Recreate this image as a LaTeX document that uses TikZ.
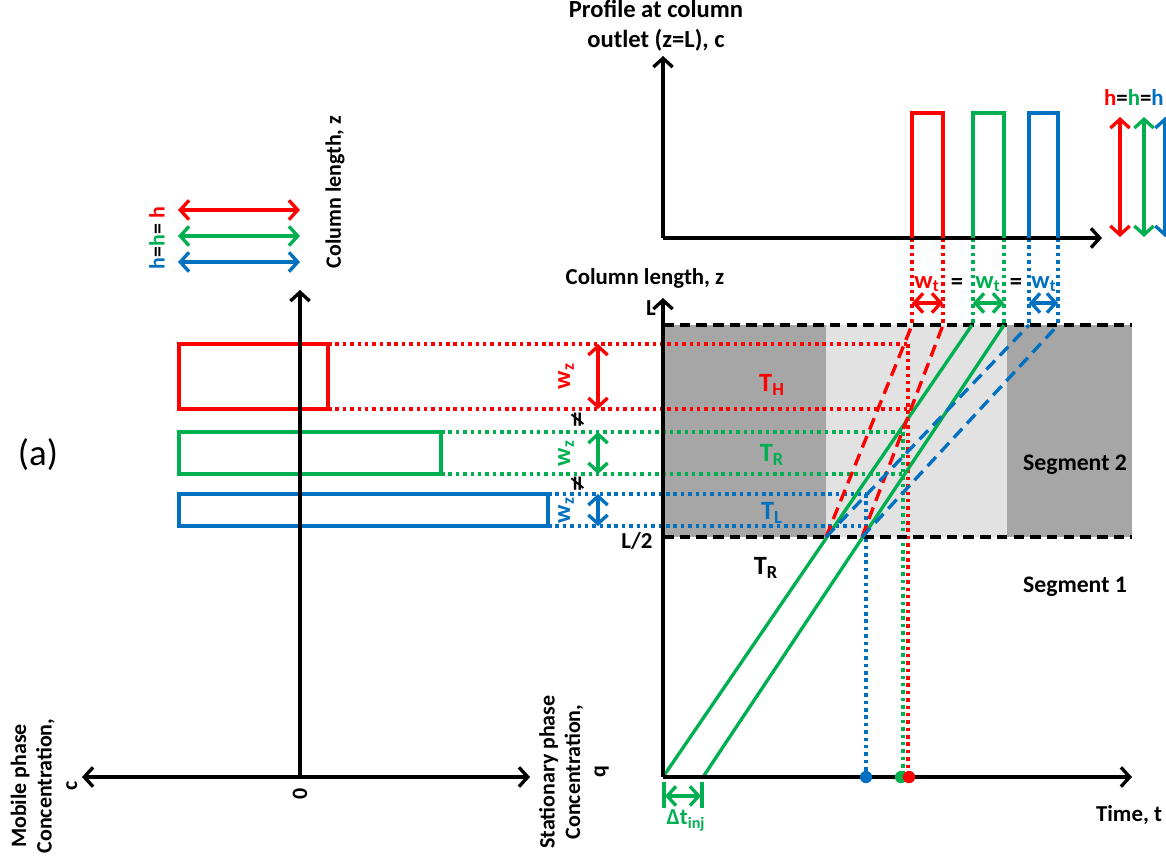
\documentclass[tikz,border=0pt]{standalone}
\usepackage{fontspec}
\setmainfont{Carlito}
\newfontfamily\dejavu{DejaVu Sans}
\usetikzlibrary{arrows.meta}
\definecolor{cR}{HTML}{FF0000}
\definecolor{cG}{HTML}{00B050}
\definecolor{cB}{HTML}{0070C0}
\definecolor{dgray}{HTML}{A6A6A6}
\definecolor{lgray}{HTML}{E2E2E2}
\begin{document}
\begin{tikzpicture}[x=0.02cm,y=-0.02cm,
  lw/.style={line width=1.9pt},
  dots/.style={line width=2pt, dash pattern=on 2pt off 2.2pt},
  dsh/.style={line width=1.9pt, dash pattern=on 7pt off 4pt},
  tip/.style={-{Straight Barb[length=5pt,width=11pt]}},
  dtip/.style={{Straight Barb[length=5pt,width=11pt]}-{Straight Barb[length=5pt,width=11pt]}},
  lbl/.style={font=\bfseries\fontsize{12.5}{14}\selectfont, inner sep=0pt, align=center},
  tlbl/.style={font=\bfseries\fontsize{15}{17}\selectfont, inner sep=0pt},
  seg/.style={font=\bfseries\fontsize{13.5}{16}\selectfont, inner sep=0pt},
  dot/.style={circle, fill, inner sep=0pt, minimum size=7pt}
]
\path[use as bounding box] (0,0) rectangle (1166,858);
\clip (0,0) rectangle (1166,858);

% ---------- coordinates ----------
\coordinate (O1) at (300,777);
\coordinate (O1L) at (82,777);
\coordinate (O1R) at (530,777);
\coordinate (O1U) at (300,290);
\coordinate (O2) at (663,777);
\coordinate (O2R) at (1132,777);
\coordinate (O2U) at (663,298);
\coordinate (P0) at (663,238);
\coordinate (PU) at (663,56);
\coordinate (PR) at (1102,238);

% ---------- background shading ----------
\fill[dgray] (663,325) rectangle (826,537);
\fill[lgray] (826,325) rectangle (1007,537);
\fill[dgray] (1007,325) rectangle (1132,537);

% ---------- left panel ----------
\draw[lw, cR] (179,344) rectangle (328,409);
\draw[lw, cG] (179,432) rectangle (441,474);
\draw[lw, cB] (179,494) rectangle (548,526);

\coordinate (hR1) at (178,210); \coordinate (hR2) at (300,210);
\coordinate (hG1) at (178,236); \coordinate (hG2) at (300,236);
\coordinate (hB1) at (178,262); \coordinate (hB2) at (300,262);
\draw[lw, cR, dtip] (hR1) -- (hR2);
\draw[lw, cG, dtip] (hG1) -- (hG2);
\draw[lw, cB, dtip] (hB1) -- (hB2);
\node[lbl, rotate=90] (hlab) at (157,238) {{\color{cB}h}={\color{cG}h}= {\color{cR}h}};

% dotted projections
\draw[dots, cR] (328,344) -- (908,344);
\draw[dots, cR] (328,409) -- (908,409);
\draw[dots, cG] (441,432) -- (903,432);
\draw[dots, cG] (441,474) -- (903,474);
\draw[dots, cB] (548,494) -- (866,494);
\draw[dots, cB] (548,526) -- (866,526);
\draw[dots, cR] (908,344) -- (908,777);
\draw[dots, cG] (903,432) -- (903,777);
\draw[dots, cB] (866,494) -- (866,777);

% left axes
\draw[lw, tip] (O1) -- (O1U);
\draw[lw, dtip] (O1L) -- (O1R);
\node[lbl, rotate=90] (zero) at (300,794) {0};
\node[lbl, rotate=90] (collen1) at (335,192) {Column length, z};
\node[lbl, rotate=90, font=\bfseries\fontsize{12.5}{14.5}\selectfont] (mob) at (44,786) {Mobile phase\\Concentration,\\c};
\node[lbl, rotate=90, font=\bfseries\fontsize{12.5}{14.5}\selectfont] (stat) at (574,772) {Stationary phase\\Concentration,\\q};
\node[font=\fontsize{21}{24}\selectfont, inner sep=0pt] (a) at (38,455) {(a)};

% w_z arrows
\draw[lw, cR, dtip] (598,344) -- (598,409);
\draw[lw, cG, dtip] (598,432) -- (598,474);
\draw[lw, cB, dtip] (598,494) -- (598,526);
\node[lbl, rotate=90, text=cR, font=\bfseries\fontsize{14}{16}\selectfont] (wzR) at (566,376) {w\textsubscript{z}};
\node[lbl, rotate=90, text=cG, font=\bfseries\fontsize{14}{16}\selectfont] (wzG) at (566,453) {w\textsubscript{z}};
\node[lbl, rotate=90, text=cB, font=\bfseries\fontsize{14}{16}\selectfont] (wzB) at (566,510) {w\textsubscript{z}};
\node[rotate=90, inner sep=0pt, font=\dejavu\bfseries\fontsize{12}{13}\selectfont] (ne1) at (578,420) {≠};
\node[rotate=90, inner sep=0pt, font=\dejavu\bfseries\fontsize{12}{13}\selectfont] (ne2) at (578,484) {≠};

% ---------- right panel ----------
\draw[line width=1.9pt, dash pattern=on 6pt off 3.5pt] (663,325) -- (1132,325);
\draw[line width=1.9pt, dash pattern=on 6pt off 3.5pt] (663,537) -- (1132,537);

% peak dotted lines down to z=L
\foreach \x/\c in {912/cR,943/cR,973/cG,1004/cG,1029/cB,1058/cB}
  \draw[dots, \c] (\x,238) -- (\x,325);

% characteristic lines
\draw[lw, cG] (663,777) -- (972,325);
\draw[lw, cG] (703,777) -- (1004,325);
\draw[dsh, cR] (826,537) -- (912,325);
\draw[dsh, cR] (862,537) -- (943,325);
\draw[dsh, cB] (826,537) -- (1029,325);
\draw[dsh, cB] (862,537) -- (1058,325);

% axes
\draw[lw, tip] (O2) -- (O2U);
\draw[lw, tip] (O2) -- (O2R);
\node[lbl, font=\bfseries\fontsize{13}{15}\selectfont] (collen2) at (645,278) {Column length, z};
\node[lbl, font=\bfseries\fontsize{13}{15}\selectfont] (Llab) at (651,308) {L};
\node[lbl, font=\bfseries\fontsize{13}{15}\selectfont] (L2lab) at (637,541) {L/2};
\node[lbl, font=\bfseries\fontsize{13}{15}\selectfont] (time) at (1129,815) {Time, t};

\node[tlbl, text=cR] (TH) at (772,385) {T\textsubscript{H}};
\node[tlbl, text=cG] (TR) at (772,455) {T\textsubscript{R}};
\node[tlbl, text=cB] (TL) at (772,513) {T\textsubscript{L}};
\node[tlbl] (TR1) at (766,568) {T\textsubscript{R}};
\node[seg] (seg2) at (1075,465) {Segment 2};
\node[seg] (seg1) at (1075,587) {Segment 1};

% dots on time axis
\node[dot, cB] (dB) at (866,777) {};
\node[dot, cG] (dG) at (901,777) {};
\node[dot, cR] (dR) at (909,777) {};

% Delta t_inj
\draw[lw, cG] (664,782) -- (664,808);
\draw[lw, cG] (702,782) -- (702,808);
\draw[lw, cG, dtip] (665,796) -- (701,796);
\node[lbl, text=cG, font=\bfseries\fontsize{13}{15}\selectfont] (dt) at (686,820) {Δt\textsubscript{inj}};

% w_t arrows
\draw[lw, cR, dtip] (912,303) -- (943,303);
\draw[lw, cG, dtip] (973,303) -- (1004,303);
\draw[lw, cB, dtip] (1029,303) -- (1058,303);
\node[lbl, text=cR, font=\bfseries\fontsize{14}{16}\selectfont] (wtR) at (927,284) {w\textsubscript{t}};
\node[lbl, text=cG, font=\bfseries\fontsize{14}{16}\selectfont] (wtG) at (988,284) {w\textsubscript{t}};
\node[lbl, text=cB, font=\bfseries\fontsize{14}{16}\selectfont] (wtB) at (1044,284) {w\textsubscript{t}};
\node[lbl, font=\bfseries\fontsize{14}{16}\selectfont] (eq1) at (957,284) {=};
\node[lbl, font=\bfseries\fontsize{14}{16}\selectfont] (eq2) at (1016,284) {=};

% ---------- profile panel ----------
\draw[lw, tip] (P0) -- (PU);
\draw[lw, tip] (P0) -- (PR);
\draw[lw, cR] (912,238) -- (912,113) -- (943,113) -- (943,238);
\draw[lw, cG] (973,238) -- (973,113) -- (1004,113) -- (1004,238);
\draw[lw, cB] (1029,238) -- (1029,113) -- (1058,113) -- (1058,238);
\node[lbl, font=\bfseries\fontsize{14}{17}\selectfont] (prof) at (656,26) {Profile at column\\outlet (z=L), c};
\draw[lw, cR, dtip] (1120,117) -- (1120,237);
\draw[lw, cG, dtip] (1144,117) -- (1144,237);
\draw[lw, cB, dtip] (1165,117) -- (1165,237);
\node[lbl, anchor=east, font=\bfseries\fontsize{13}{15}\selectfont] (hh) at (1164,97) {{\color{cR}h}={\color{cG}h}={\color{cB}h}};
\end{tikzpicture}
\end{document}
